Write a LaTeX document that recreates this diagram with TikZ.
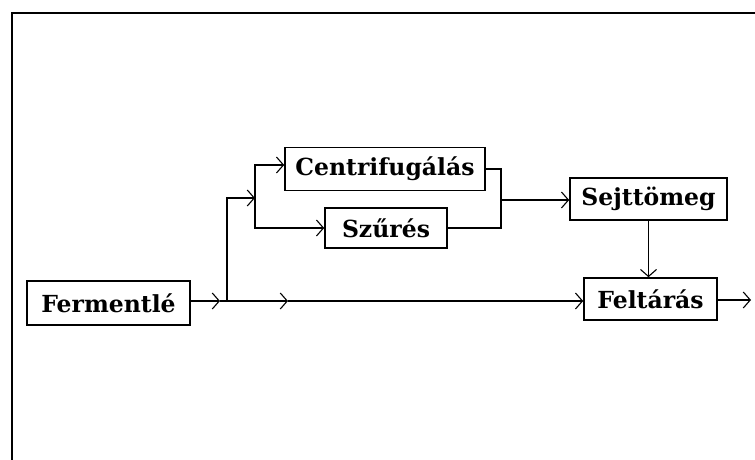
\documentclass[tikz,border=0pt]{standalone}
\usepackage{fontspec}
\setmainfont{DejaVu Serif}
\usetikzlibrary{arrows.meta}
\begin{document}
\begin{tikzpicture}[x=1pt,y=-1pt,
  box/.style={draw,line width=1.6pt,inner sep=0pt,font=\bfseries\fontsize{23.5}{28}\selectfont},
  conn/.style={line width=1.4pt},
  arr/.style={conn,-{Straight Barb[length=7pt,width=16pt,line width=1.1pt]}}]
\useasboundingbox (0,0) rectangle (755,460);
\draw[line width=1.8pt] (12,460) -- (12,13) -- (755,13);
\node[box,minimum width=163pt,minimum height=44pt] (F) at (108.5,303) {Fermentlé};
\node[box,minimum width=200pt,minimum height=43pt] (C) at (385,169) {Centrifugálás};
\node[box,minimum width=122pt,minimum height=40pt] (S) at (386,228) {Szűrés};
\node[box,minimum width=157pt,minimum height=42pt] (Sej) at (648.5,199) {Sejttömeg};
\node[box,minimum width=133pt,minimum height=42pt] (Fel) at (650.5,299) {Feltárás};
\coordinate (m1) at (220,301);
\coordinate (j1) at (227,301);
\coordinate (m2) at (288,301);
\coordinate (j2) at (255,198);
\coordinate (k) at (501,200);
\coordinate (out) at (751,300);
\draw[arr] (F.east |- m1) -- (m1);
\draw[arr] (m1) -- (m2);
\draw[arr] (m2) -- (Fel.west |- m2);
\draw[arr] (j1) |- (j2);
\draw[arr] (j2) |- ([yshift=4pt]C.west);
\draw[arr] (j2) |- (S.west);
\draw[conn] (C.east) -| (k) |- (S.east);
\draw[arr] (k) -- (Sej.west |- k);
\draw[arr] (Sej.south) -- (Sej.south |- Fel.north);
\draw[arr] (Fel.east |- out) -- (out);
\end{tikzpicture}
\end{document}
